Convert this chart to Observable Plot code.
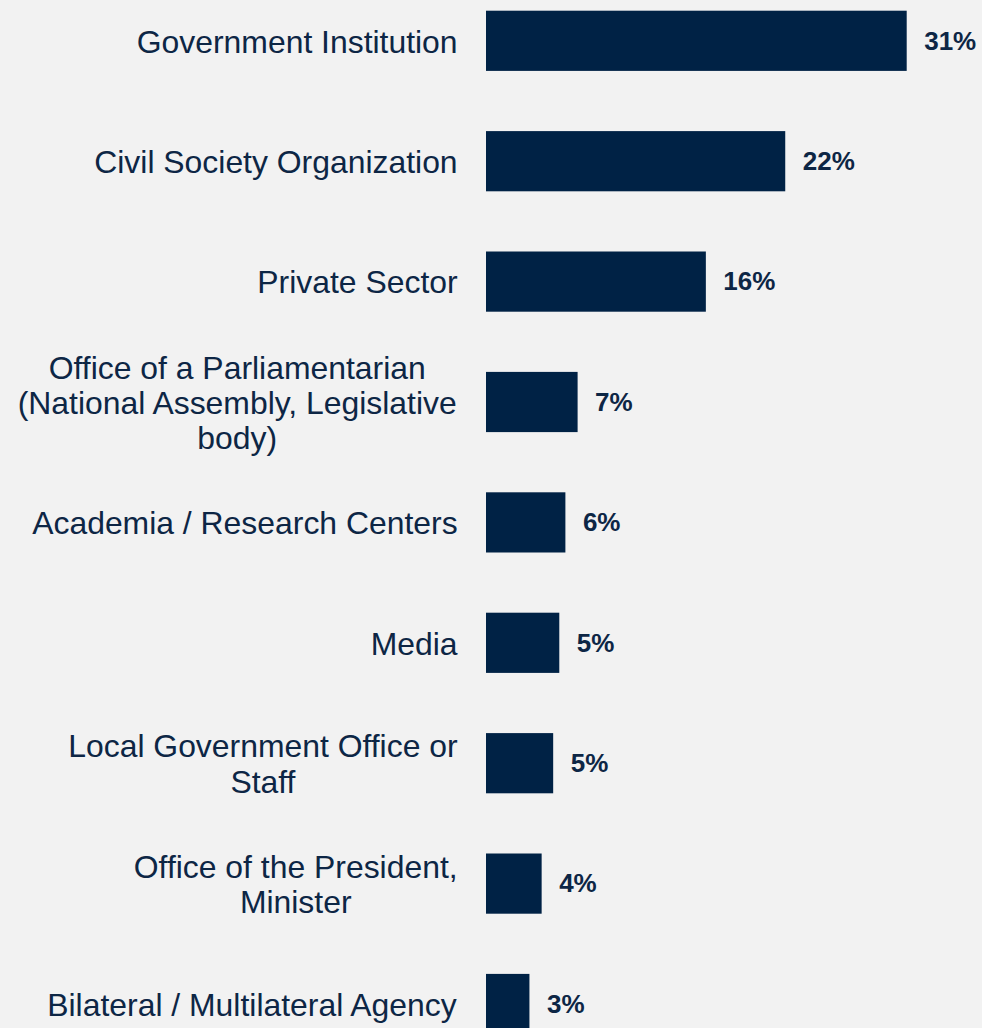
<!DOCTYPE html>
<html>
<head>
<meta charset="utf-8">
<script src="https://cdn.jsdelivr.net/npm/d3@7"></script>
<script src="https://cdn.jsdelivr.net/npm/@observablehq/plot@0.6"></script>
<style>
  html, body { margin: 0; padding: 0; background: #f2f2f2; }
  #chart svg { display: block; }
</style>
</head>
<body>
<div id="chart"></div>
<script>
const categories = [
  "Government Institution",
  "Civil Society Organization",
  "Private Sector",
  "Office of a Parliamentarian\n(National Assembly, Legislative\nbody)",
  "Academia / Research Centers",
  "Media",
  "Local Government Office or\nStaff",
  "Office of the President,\nMinister",
  "Bilateral / Multilateral Agency"
];
const values = [31, 22.05, 16.2, 6.75, 5.85, 5.4, 4.95, 4.1, 3.2];
const valueLabels = ["31%", "22%", "16%", "7%", "6%", "5%", "5%", "4%", "3%"];

const data = categories.map((c, i) => ({category: c, value: values[i], label: valueLabels[i]}));

const FONT = "Liberation Sans, Arial, Helvetica, sans-serif";
const LABEL_SIZE = 31.9;
const BAR = "#002245";
const TEXT = "#0d2645";

// measure widest line of each category label so multi-line labels are centre-aligned in a right-aligned block
const ctx = document.createElement("canvas").getContext("2d");
ctx.font = `${LABEL_SIZE}px ${FONT}`;
const blockWidth = c => Math.max(...c.split("\n").map(l => ctx.measureText(l).width));

const labelMarks = data.map(d => Plot.text([d], {
  x: () => 0,
  y: "category",
  text: "category",
  textAnchor: "middle",
  lineAnchor: "middle",
  lineHeight: 1.105,
  dx: -(28.9 + blockWidth(d.category) / 2),
  fontSize: LABEL_SIZE,
  fontFamily: FONT,
  fill: TEXT
}));

const chart = Plot.plot({
  width: 982,
  height: 1028,
  style: {background: "#f2f2f2", fontFamily: FONT, overflow: "visible"},
  x: {domain: [0, 31], range: [486, 906.7], axis: null},
  y: {domain: categories, range: [10.7, 1034.1], paddingInner: 0.5, paddingOuter: 0, round: false, axis: null},
  marks: [
    Plot.barX(data, {x: "value", y: "category", fill: BAR}),
    Plot.text(data, {
      x: "value", y: "category", text: "label",
      dx: 17, textAnchor: "start", fontSize: 26, fontWeight: "bold", fontFamily: FONT, fill: TEXT
    }),
    ...labelMarks
  ]
});
document.getElementById("chart").append(chart);
</script>
</body>
</html>
